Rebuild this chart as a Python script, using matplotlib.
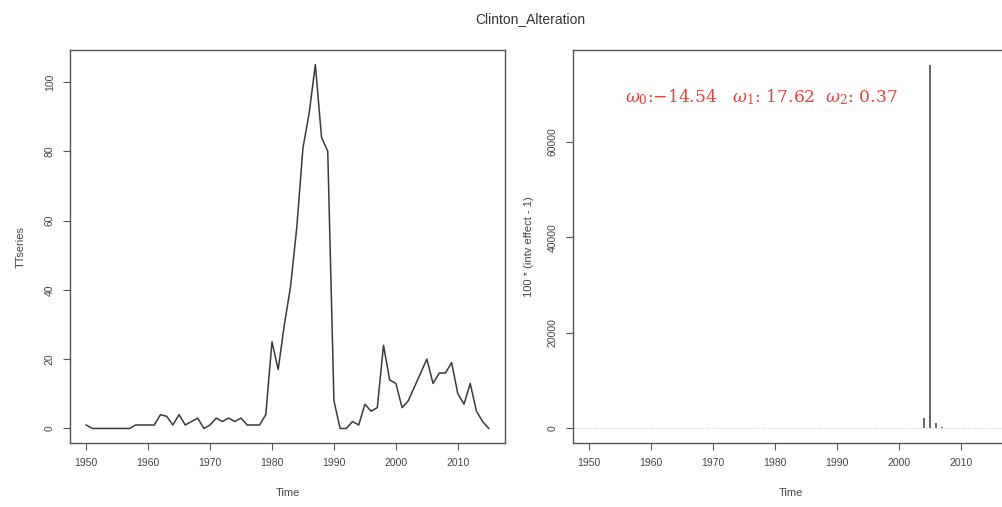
import numpy as np
import matplotlib
matplotlib.use("Agg")
import matplotlib.pyplot as plt

plt.rcParams['font.family'] = ['Liberation Sans', 'DejaVu Sans']
plt.rcParams['mathtext.fontset'] = 'dejavuserif'

years = np.arange(1950, 2016)
ttseries = [1, 0, 0, 0, 0, 0, 0, 0, 1, 1,
            1, 1, 4, 3.5, 1, 4, 1, 2, 3, 0,
            1, 3, 2, 3, 2, 3, 1, 1, 1, 4,
            25, 17, 30, 41, 58, 81, 91, 105, 84, 80,
            8, 0, 0, 2, 1, 7, 5, 6, 24, 14,
            13, 6, 8, 12, 16, 20, 13, 16, 16, 19,
            10, 7, 13, 5, 2, 0]

# intervention effect, near zero except around 2005
effect = np.zeros(len(years))
effect_years = [2004, 2005, 2006, 2007]
effect_vals = [2100, 76200, 1200, 300]
for y, v in zip(effect_years, effect_vals):
    effect[y - 1950] = v

title = "Clinton_Alteration"
omega_txt = r"$\omega_0$:$-$14.54   $\omega_1$: 17.62  $\omega_2$: 0.37"

fig = plt.figure(figsize=(10.02, 5.07), dpi=100)
ax1 = fig.add_axes([0.0699, 0.1262, 0.434, 0.775])
ax2 = fig.add_axes([0.5719, 0.1262, 0.434, 0.775])

edge = '#555555'
tcol = '#444444'

ax1.plot(years, ttseries, color='#3a3a3a', lw=1.1)
ax1.set_xlim(1947.4, 2017.6)
ymax = max(ttseries)
ax1.set_ylim(-0.04 * ymax, ymax * 1.04)
ax1.set_yticks([0, 20, 40, 60, 80, 100])
ax1.set_xticks(range(1950, 2020, 10))
ax1.set_ylabel("TTseries", fontsize=8, color=tcol, labelpad=14)
ax1.set_xlabel("Time", fontsize=8, color=tcol, labelpad=14)

ax2.vlines(years, 0, effect, color='#3a3a3a', lw=1.1)
ax2.axhline(0, color='#cccccc', lw=0.8, ls=':')
ax2.set_xlim(1947.4, 2017.6)
emax = effect.max()
ax2.set_ylim(-0.04 * emax, emax * 1.04)
ax2.set_yticks([0, 20000, 40000, 60000])
ax2.set_xticks(range(1950, 2020, 10))
ax2.set_ylabel("100 * (intv effect - 1)", fontsize=8, color=tcol, labelpad=10)
ax2.set_xlabel("Time", fontsize=8, color=tcol, labelpad=14)
ax2.text(1977.8, 69300, omega_txt, color='#e5403a', fontsize=12.3,
         family='DejaVu Serif', ha='center', va='center')

for ax in (ax1, ax2):
    for s in ax.spines.values():
        s.set_color(edge)
        s.set_linewidth(1.0)
    ax.tick_params(direction='out', length=5, color=edge, labelcolor=tcol,
                   labelsize=7.5, pad=6)
    for lab in ax.get_yticklabels():
        lab.set_rotation(90)
        lab.set_va('center')

fig.text(0.529, 0.962, title, ha='center', va='center', fontsize=10, color='#333333')

fig.savefig("out.png", dpi=100)
